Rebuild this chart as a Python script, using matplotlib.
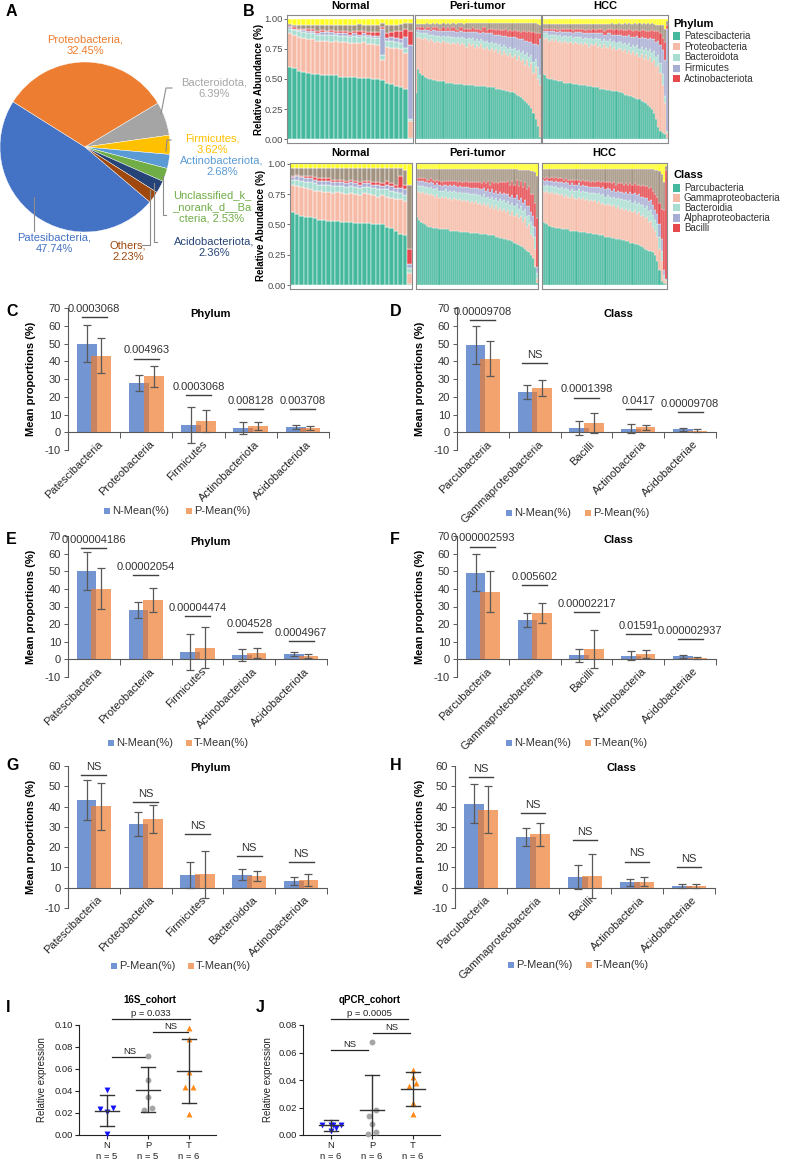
import numpy as np
import matplotlib
matplotlib.use("Agg")
import matplotlib.pyplot as plt
from matplotlib.lines import Line2D
from matplotlib.patches import Rectangle

plt.rcParams['font.family'] = ['Liberation Sans', 'DejaVu Sans']
plt.rcParams['axes.linewidth'] = 0.8

# ======================= DATA =======================
# ---- A: pie ----
pie_names = ['Patesibacteria', 'Proteobacteria', 'Bacteroidota', 'Firmicutes',
             'Actinobacteriota', 'Unclassified_k_\n_norank_d__Ba\ncteria', 'Acidobacteriota', 'Others']
pie_values = [47.74, 32.45, 6.39, 3.62, 2.68, 2.53, 2.36, 2.23]

# ---- B: stacked relative abundance (Phylum) ----
groups = ['Normal', 'Peri-tumor', 'HCC']
phylum_legend = ['Patescibacteria', 'Proteobacteria', 'Bacteroidota', 'Firmicutes', 'Actinobacteriota']
class_legend = ['Parcubacteria', 'Gammaproteobacteria', 'Bacteroidia', 'Alphaproteobacteria', 'Bacilli']

phy_pat_N = [0.60,0.59,0.57,0.56,0.55,0.54,0.54,0.53,0.53,0.53,0.53,0.52,0.52,0.52,0.52,0.51,0.51,0.51,0.50,0.50,0.49,0.47,0.46,0.44,0.43,0.42,0.01]
phy_protop_N = [0.88,0.87,0.85,0.84,0.83,0.83,0.82,0.82,0.82,0.81,0.82,0.81,0.81,0.80,0.80,0.80,0.81,0.79,0.79,0.78,0.66,0.77,0.76,0.76,0.75,0.72,0.15]
phy_bac_N = [0.04,0.04,0.05,0.05,0.05,0.05,0.05,0.05,0.05,0.06,0.05,0.05,0.05,0.05,0.06,0.05,0.05,0.06,0.05,0.06,0.04,0.05,0.06,0.05,0.05,0.04,0.02]
phy_fir_N = [0.01,0.01,0.01,0.02,0.02,0.02,0.01,0.02,0.02,0.02,0.01,0.02,0.02,0.02,0.02,0.02,0.02,0.02,0.02,0.02,0.22,0.02,0.03,0.03,0.03,0.09,0.61]
phy_act_N = [0.01,0.01,0.01,0.01,0.02,0.02,0.02,0.02,0.01,0.02,0.02,0.02,0.02,0.02,0.02,0.03,0.02,0.02,0.03,0.03,0.01,0.04,0.04,0.06,0.07,0.07,0.12]
phy_yel_N = [0.04,0.05,0.05,0.05,0.05,0.05,0.05,0.05,0.05,0.05,0.05,0.05,0.05,0.05,0.05,0.04,0.05,0.05,0.05,0.05,0.03,0.05,0.05,0.05,0.04,0.03,0.03]

phy_pat_P = [0.38,0.58,0.55,0.53,0.52,0.51,0.50,0.50,0.49,0.49,0.48,0.48,0.48,0.48,0.47,0.47,0.47,0.47,0.46,0.46,
             0.46,0.46,0.46,0.45,0.45,0.45,0.45,0.45,0.44,0.44,0.44,0.44,0.44,0.44,0.43,0.43,0.43,0.43,0.42,0.42,
             0.42,0.41,0.41,0.40,0.40,0.39,0.39,0.38,0.37,0.36,0.35,0.33,0.32,0.30,0.28,0.26,0.22,0.17,0.11,0.02]
phy_protop_P = [0.84,0.85,0.84,0.83,0.84,0.83,0.82,0.83,0.82,0.80,0.82,0.81,0.80,0.82,0.80,0.81,0.79,0.80,0.80,0.79,
                0.81,0.78,0.80,0.79,0.77,0.80,0.78,0.79,0.76,0.78,0.77,0.79,0.76,0.75,0.77,0.74,0.76,0.73,0.75,0.72,
                0.74,0.70,0.73,0.71,0.69,0.72,0.68,0.70,0.66,0.69,0.65,0.67,0.62,0.66,0.60,0.63,0.55,0.60,0.50,0.45]
phy_bac_P = [0.05,0.04,0.04,0.05,0.04,0.05,0.05,0.04,0.05,0.06,0.04,0.05,0.05,0.04,0.05,0.05,0.06,0.05,0.05,0.05,
             0.04,0.06,0.05,0.05,0.06,0.04,0.05,0.05,0.06,0.05,0.05,0.04,0.06,0.06,0.05,0.06,0.05,0.06,0.05,0.06,
             0.05,0.07,0.05,0.06,0.06,0.05,0.07,0.06,0.07,0.05,0.07,0.06,0.08,0.06,0.08,0.07,0.09,0.07,0.10,0.08]
phy_fir_P = [0.02,0.03,0.03,0.03,0.03,0.03,0.04,0.03,0.04,0.05,0.04,0.04,0.05,0.04,0.05,0.04,0.05,0.05,0.05,0.05,
             0.04,0.06,0.05,0.05,0.06,0.05,0.06,0.05,0.07,0.06,0.06,0.05,0.07,0.07,0.06,0.08,0.07,0.08,0.07,0.09,
             0.08,0.09,0.08,0.09,0.10,0.08,0.10,0.09,0.11,0.09,0.11,0.10,0.12,0.10,0.13,0.11,0.15,0.12,0.18,0.30]
phy_act_P = [0.02,0.01,0.02,0.02,0.01,0.02,0.02,0.02,0.02,0.02,0.03,0.02,0.02,0.03,0.02,0.03,0.02,0.03,0.03,0.03,
             0.02,0.03,0.03,0.03,0.03,0.03,0.03,0.04,0.03,0.03,0.04,0.03,0.04,0.05,0.03,0.04,0.04,0.05,0.04,0.05,
             0.04,0.05,0.05,0.06,0.05,0.06,0.05,0.06,0.06,0.07,0.06,0.07,0.08,0.07,0.09,0.08,0.10,0.09,0.10,0.05]
phy_yel_P = [0.04,0.04,0.04,0.04,0.04,0.03,0.04,0.04,0.03,0.04,0.03,0.04,0.04,0.03,0.04,0.03,0.04,0.03,0.03,0.04,
             0.03,0.03,0.03,0.04,0.03,0.03,0.03,0.03,0.03,0.03,0.03,0.03,0.03,0.03,0.03,0.03,0.03,0.03,0.03,0.03,
             0.03,0.03,0.03,0.03,0.03,0.03,0.03,0.03,0.03,0.03,0.03,0.03,0.03,0.03,0.03,0.03,0.03,0.03,0.04,0.05]

phy_pat_T = [0.54,0.53,0.51,0.50,0.50,0.49,0.49,0.48,0.48,0.48,0.47,0.47,0.47,0.47,0.46,0.46,0.46,0.45,0.45,0.45,
             0.45,0.44,0.44,0.44,0.43,0.43,0.43,0.42,0.42,0.42,0.41,0.41,0.41,0.40,0.40,0.40,0.39,0.39,0.38,0.37,
             0.37,0.36,0.36,0.35,0.34,0.33,0.33,0.32,0.31,0.30,0.28,0.27,0.25,0.22,0.17,0.10,0.07,0.05,0.04,0.01]
phy_protop_T = [0.84,0.83,0.84,0.82,0.83,0.82,0.83,0.81,0.82,0.80,0.82,0.81,0.80,0.81,0.79,0.81,0.80,0.79,0.80,0.78,
                0.80,0.79,0.77,0.79,0.78,0.80,0.77,0.78,0.76,0.79,0.77,0.76,0.78,0.75,0.77,0.74,0.76,0.75,0.73,0.75,
                0.72,0.74,0.71,0.73,0.70,0.72,0.68,0.71,0.67,0.70,0.66,0.68,0.64,0.66,0.60,0.62,0.55,0.45,0.30,0.05]
phy_bac_T = [0.04,0.05,0.04,0.05,0.04,0.05,0.04,0.05,0.05,0.05,0.04,0.05,0.05,0.05,0.05,0.04,0.05,0.06,0.05,0.05,
             0.04,0.05,0.06,0.05,0.05,0.04,0.06,0.05,0.06,0.04,0.05,0.06,0.05,0.06,0.05,0.06,0.05,0.06,0.06,0.05,
             0.06,0.06,0.06,0.05,0.07,0.06,0.07,0.06,0.07,0.06,0.07,0.07,0.08,0.07,0.08,0.08,0.08,0.09,0.06,0.02]
phy_fir_T = [0.02,0.02,0.02,0.03,0.03,0.03,0.02,0.03,0.03,0.04,0.03,0.03,0.04,0.03,0.04,0.04,0.04,0.04,0.04,0.05,
             0.04,0.04,0.05,0.04,0.05,0.04,0.05,0.05,0.06,0.04,0.05,0.06,0.05,0.06,0.05,0.07,0.06,0.06,0.07,0.06,
             0.08,0.07,0.08,0.07,0.08,0.08,0.09,0.08,0.10,0.08,0.10,0.09,0.11,0.10,0.13,0.12,0.15,0.20,0.30,0.85]
phy_act_T = [0.02,0.02,0.02,0.02,0.02,0.02,0.03,0.02,0.02,0.03,0.03,0.03,0.03,0.03,0.03,0.03,0.03,0.03,0.03,0.04,
             0.03,0.03,0.04,0.03,0.04,0.03,0.04,0.04,0.04,0.03,0.04,0.04,0.04,0.05,0.04,0.05,0.04,0.05,0.05,0.05,
             0.05,0.05,0.06,0.05,0.06,0.05,0.06,0.06,0.07,0.06,0.07,0.06,0.08,0.07,0.09,0.08,0.10,0.10,0.15,0.03]
phy_yel_T = [0.04,0.04,0.04,0.04,0.04,0.04,0.04,0.04,0.04,0.04,0.04,0.04,0.04,0.04,0.04,0.04,0.04,0.04,0.04,0.04,
             0.04,0.04,0.04,0.04,0.04,0.04,0.04,0.04,0.04,0.04,0.04,0.04,0.04,0.03,0.04,0.04,0.03,0.04,0.04,0.03,
             0.04,0.03,0.04,0.04,0.03,0.04,0.03,0.04,0.03,0.04,0.03,0.04,0.03,0.04,0.05,0.05,0.05,0.05,0.08,0.02]

# ---- B: stacked relative abundance (Class) ----
cls_par_N = [0.60,0.59,0.57,0.56,0.56,0.55,0.54,0.54,0.53,0.53,0.53,0.52,0.52,0.52,0.51,0.51,0.51,0.51,0.50,0.50,0.50,0.48,0.47,0.45,0.42,0.41,0.01]
cls_gamtop_N = [0.83,0.82,0.81,0.80,0.79,0.78,0.78,0.77,0.77,0.76,0.77,0.76,0.75,0.76,0.75,0.74,0.76,0.75,0.74,0.73,0.74,0.73,0.72,0.71,0.71,0.69,0.10]
cls_bcd_N = [0.04,0.05,0.05,0.05,0.06,0.06,0.05,0.06,0.06,0.06,0.05,0.06,0.06,0.06,0.06,0.06,0.05,0.06,0.06,0.06,0.05,0.06,0.06,0.06,0.05,0.05,0.04]
cls_alp_N = [0.02,0.03,0.03,0.03,0.03,0.03,0.03,0.03,0.03,0.03,0.03,0.03,0.03,0.03,0.03,0.03,0.03,0.03,0.03,0.04,0.03,0.04,0.04,0.03,0.04,0.05,0.03]
cls_bal_N = [0.01,0.01,0.01,0.02,0.02,0.02,0.02,0.02,0.02,0.02,0.02,0.02,0.02,0.02,0.02,0.02,0.02,0.02,0.02,0.02,0.02,0.03,0.02,0.03,0.10,0.04,0.13]
cls_yel_N = [0.03,0.03,0.03,0.03,0.03,0.03,0.03,0.03,0.03,0.03,0.03,0.03,0.03,0.03,0.03,0.03,0.03,0.03,0.03,0.03,0.03,0.03,0.03,0.03,0.03,0.05,0.17]

cls_par_P = [0.56,0.54,0.52,0.51,0.50,0.49,0.48,0.48,0.47,0.47,0.47,0.46,0.46,0.46,0.46,0.46,0.45,0.45,0.45,0.45,
             0.45,0.44,0.44,0.44,0.44,0.44,0.43,0.43,0.43,0.43,0.43,0.42,0.42,0.42,0.42,0.41,0.41,0.41,0.41,0.40,
             0.40,0.39,0.39,0.38,0.38,0.37,0.37,0.36,0.35,0.34,0.33,0.32,0.31,0.30,0.28,0.27,0.25,0.22,0.15,0.02]
cls_gamtop_P = [0.78,0.77,0.76,0.77,0.75,0.76,0.74,0.75,0.74,0.73,0.74,0.72,0.73,0.72,0.73,0.71,0.72,0.70,0.72,0.71,
                0.70,0.71,0.69,0.70,0.69,0.70,0.68,0.69,0.68,0.69,0.67,0.68,0.66,0.68,0.65,0.67,0.64,0.66,0.63,0.65,
                0.62,0.64,0.61,0.63,0.60,0.62,0.58,0.61,0.57,0.59,0.55,0.57,0.52,0.55,0.48,0.50,0.42,0.40,0.30,0.05]
cls_bcd_P = [0.05,0.05,0.06,0.05,0.06,0.05,0.06,0.06,0.05,0.06,0.06,0.06,0.05,0.06,0.06,0.06,0.06,0.07,0.06,0.06,
             0.06,0.06,0.07,0.06,0.07,0.06,0.07,0.06,0.07,0.06,0.07,0.06,0.07,0.07,0.07,0.06,0.07,0.07,0.07,0.07,
             0.07,0.07,0.08,0.07,0.08,0.07,0.08,0.07,0.08,0.08,0.08,0.08,0.09,0.08,0.09,0.08,0.10,0.09,0.10,0.05]
cls_alp_P = [0.03,0.04,0.04,0.04,0.04,0.04,0.04,0.04,0.05,0.04,0.04,0.05,0.04,0.05,0.04,0.05,0.05,0.05,0.05,0.05,
             0.05,0.05,0.05,0.05,0.05,0.05,0.05,0.05,0.05,0.05,0.06,0.05,0.06,0.05,0.06,0.06,0.06,0.06,0.06,0.06,
             0.06,0.06,0.06,0.06,0.07,0.06,0.07,0.06,0.07,0.07,0.07,0.07,0.07,0.07,0.08,0.07,0.08,0.08,0.08,0.05]
cls_bal_P = [0.02,0.02,0.02,0.02,0.03,0.02,0.03,0.03,0.03,0.03,0.03,0.03,0.03,0.03,0.03,0.04,0.03,0.04,0.03,0.04,
             0.04,0.04,0.04,0.04,0.05,0.04,0.05,0.05,0.05,0.05,0.05,0.06,0.05,0.06,0.06,0.07,0.06,0.07,0.08,0.07,
             0.09,0.08,0.10,0.09,0.10,0.11,0.10,0.12,0.11,0.13,0.12,0.14,0.13,0.15,0.14,0.17,0.15,0.18,0.20,0.40]
cls_yel_P = [0.04,0.04,0.04,0.04,0.04,0.04,0.04,0.04,0.04,0.04,0.04,0.04,0.04,0.04,0.04,0.04,0.04,0.04,0.04,0.04,
             0.04,0.04,0.04,0.04,0.04,0.04,0.04,0.04,0.04,0.04,0.04,0.04,0.04,0.04,0.04,0.04,0.04,0.04,0.04,0.04,
             0.04,0.04,0.04,0.04,0.04,0.04,0.04,0.04,0.04,0.04,0.05,0.05,0.05,0.05,0.05,0.05,0.06,0.06,0.07,0.10]

cls_par_T = [0.52,0.51,0.50,0.49,0.48,0.48,0.47,0.47,0.47,0.46,0.46,0.46,0.46,0.45,0.45,0.45,0.45,0.44,0.44,0.44,
             0.44,0.43,0.43,0.43,0.42,0.42,0.42,0.41,0.41,0.41,0.40,0.40,0.40,0.39,0.39,0.38,0.38,0.38,0.37,0.37,
             0.36,0.36,0.35,0.35,0.34,0.34,0.33,0.32,0.31,0.30,0.29,0.28,0.28,0.27,0.25,0.20,0.12,0.03,0.02,0.01]
cls_gamtop_T = [0.78,0.77,0.78,0.76,0.77,0.75,0.76,0.75,0.74,0.75,0.73,0.74,0.73,0.72,0.74,0.72,0.71,0.73,0.71,0.72,
                0.70,0.71,0.69,0.70,0.69,0.70,0.68,0.69,0.67,0.68,0.66,0.67,0.66,0.65,0.66,0.64,0.65,0.63,0.64,0.62,
                0.63,0.61,0.62,0.60,0.61,0.59,0.60,0.57,0.58,0.55,0.56,0.52,0.53,0.48,0.45,0.40,0.30,0.20,0.05,0.03]
cls_bcd_T = [0.05,0.05,0.05,0.06,0.05,0.06,0.06,0.05,0.06,0.06,0.06,0.06,0.06,0.06,0.05,0.06,0.07,0.06,0.06,0.06,
             0.07,0.06,0.07,0.06,0.07,0.06,0.07,0.07,0.07,0.07,0.07,0.07,0.07,0.07,0.07,0.07,0.07,0.08,0.07,0.08,
             0.07,0.08,0.08,0.08,0.08,0.08,0.08,0.09,0.08,0.09,0.09,0.09,0.09,0.10,0.09,0.10,0.10,0.08,0.03,0.01]
cls_alp_T = [0.04,0.04,0.04,0.04,0.04,0.04,0.04,0.05,0.05,0.04,0.05,0.05,0.05,0.05,0.05,0.05,0.05,0.05,0.05,0.05,
             0.05,0.05,0.05,0.05,0.05,0.05,0.06,0.05,0.06,0.06,0.06,0.06,0.06,0.06,0.06,0.06,0.06,0.06,0.06,0.06,
             0.07,0.06,0.07,0.07,0.07,0.07,0.07,0.07,0.07,0.08,0.07,0.08,0.08,0.08,0.08,0.09,0.10,0.10,0.04,0.01]
cls_bal_T = [0.02,0.02,0.02,0.02,0.03,0.03,0.03,0.03,0.03,0.03,0.03,0.03,0.03,0.04,0.03,0.04,0.04,0.03,0.04,0.04,
             0.04,0.04,0.05,0.04,0.05,0.04,0.05,0.05,0.05,0.05,0.06,0.05,0.06,0.06,0.06,0.06,0.06,0.07,0.07,0.07,
             0.07,0.08,0.07,0.08,0.08,0.09,0.08,0.09,0.10,0.10,0.10,0.11,0.11,0.12,0.13,0.14,0.18,0.25,0.50,0.90]
cls_yel_T = [0.04,0.04,0.04,0.04,0.04,0.04,0.04,0.04,0.04,0.04,0.04,0.04,0.04,0.04,0.04,0.04,0.04,0.04,0.04,0.04,
             0.04,0.04,0.04,0.04,0.04,0.04,0.04,0.04,0.04,0.04,0.04,0.04,0.04,0.04,0.04,0.04,0.04,0.04,0.04,0.04,
             0.04,0.04,0.04,0.04,0.04,0.04,0.04,0.04,0.04,0.04,0.04,0.04,0.04,0.04,0.05,0.05,0.06,0.08,0.15,0.02]

# ---- C-H: mean proportions with SD ----
cats_phy = ['Patescibacteria', 'Proteobacteria', 'Firmicutes', 'Actinobacteriota', 'Acidobacteriota']
cats_cls = ['Parcubacteria', 'Gammaproteobacteria', 'Bacilli', 'Actinobacteria', 'Acidobacteriae']
cats_phy_G = ['Patescibacteria', 'Proteobacteria', 'Firmicutes', 'Bacteroidota', 'Actinobacteriota']

c_n_mean = [50.0, 27.8, 4.2, 2.5, 3.0];  c_n_sd = [10.7, 4.5, 10.2, 3.5, 1.0]
c_p_mean = [43.2, 31.5, 6.3, 3.3, 2.2];  c_p_sd = [9.8, 5.9, 6.2, 2.2, 1.1]
c_pval = ['0.0003068', '0.004963', '0.0003068', '0.008128', '0.003708']

d_n_mean = [49.2, 22.5, 2.2, 2.1, 1.7];  d_n_sd = [10.6, 3.9, 3.9, 2.7, 0.9]
d_p_mean = [41.5, 25.0, 5.1, 2.7, 0.9];  d_p_sd = [9.7, 4.4, 5.7, 1.5, 0.9]
d_pval = ['0.00009708', 'NS', '0.0001398', '0.0417', '0.00009708']

e_n_mean = [50.0, 27.8, 4.2, 2.4, 3.0];  e_n_sd = [10.7, 4.5, 10.2, 3.5, 1.0]
e_t_mean = [40.2, 33.8, 6.6, 3.6, 2.0];  e_t_sd = [11.5, 6.8, 11.6, 2.9, 1.1]
e_pval = ['0.000004186', '0.00002054', '0.00004474', '0.004528', '0.0004967']

f_n_mean = [49.2, 22.5, 2.2, 2.1, 1.7];  f_n_sd = [10.6, 3.9, 3.9, 2.7, 0.9]
f_t_mean = [38.3, 26.4, 5.8, 3.0, 0.8];  f_t_sd = [11.6, 5.7, 10.7, 2.2, 0.7]
f_pval = ['0.000002593', '0.005602', '0.00002217', '0.01591', '0.000002937']

g_p_mean = [43.2, 31.5, 6.2, 6.5, 3.2];  g_p_sd = [9.8, 5.9, 6.3, 2.9, 2.1]
g_t_mean = [40.1, 33.7, 6.6, 5.7, 3.7];  g_t_sd = [11.5, 6.9, 11.6, 2.3, 2.9]
g_pval = ['NS', 'NS', 'NS', 'NS', 'NS']

h_p_mean = [41.5, 25.0, 5.2, 2.6, 0.9];  h_p_sd = [9.7, 4.4, 5.8, 1.6, 0.9]
h_t_mean = [38.4, 26.4, 5.7, 3.0, 0.8];  h_t_sd = [11.6, 5.7, 10.8, 2.2, 0.8]
h_pval = ['NS', 'NS', 'NS', 'NS', 'NS']

# ---- I, J: relative expression ----
groups_ij = ['N', 'P', 'T']
i_N = [0.041, 0.024, 0.021, 0.025, 0.001]
i_P = [0.072, 0.050, 0.035, 0.023, 0.025]
i_T = [0.097, 0.087, 0.057, 0.044, 0.044, 0.019]
i_mean = [0.0222, 0.0412, 0.058]
i_sd = [0.0142, 0.0203, 0.0292]
j_N = [0.0075, 0.0073, 0.0030, 0.0050, 0.0072, 0.0074]
j_P = [0.068, 0.018, 0.0135, 0.008, 0.0025, 0.001]
j_T = [0.047, 0.042, 0.038, 0.036, 0.023, 0.015]
j_mean = [0.0070, 0.0185, 0.0335]
j_sd = [0.0040, 0.0255, 0.0125]

# ======================= FIGURE =======================
W, H = 791, 1160
fig = plt.figure(figsize=(W / 100, H / 100), dpi=100)


def px_axes(x0, y0, x1, y1):
    return fig.add_axes([x0 / W, 1 - y1 / H, (x1 - x0) / W, (y1 - y0) / H])


def ftext(px, py, s, **kw):
    kw.setdefault('ha', 'center')
    kw.setdefault('va', 'center')
    return fig.text(px / W, 1 - py / H, s, **kw)


def fline(xs, ys, color='#8C8C8C', lw=0.8):
    fig.add_artist(Line2D([x / W for x in xs], [1 - y / H for y in ys],
                          transform=fig.transFigure, color=color, lw=lw))


def fsquare(px, py, size, color):
    fig.add_artist(Rectangle((px / W, 1 - (py + size / 2) / H), size / W, size / H,
                             transform=fig.transFigure, facecolor=color, lw=0))


# panel letters
for lab, (x, y) in {'A': (6, 11), 'B': (243, 11), 'C': (6, 312), 'D': (390, 312),
                    'E': (6, 539), 'F': (390, 539), 'G': (6, 766), 'H': (390, 766),
                    'I': (6, 1008), 'J': (256, 1008)}.items():
    ftext(x, y, lab, fontsize=11.5, fontweight='bold', ha='left')

# ---------------- A: pie ----------------
pie_colors = ['#4472C4', '#ED7D31', '#A5A5A5', '#FFC000', '#5B9BD5', '#70AD47', '#264478', '#9E480E']
cx, cy, r = 85, 147, 85
axA = px_axes(cx - r, cy - r, cx + r, cy + r)
axA.pie(pie_values, colors=pie_colors, startangle=-40.3, counterclock=False,
        wedgeprops=dict(linewidth=0.3, edgecolor='white'))
axA.set_xlim(-1, 1); axA.set_ylim(-1, 1); axA.axis('off')

label_pos = [(54, 243), (85, 45), (214, 88), (212, 144), (222, 166), (212, 207), (214, 247), (128, 251)]
for i, (nm, v) in enumerate(zip(pie_names, pie_values)):
    sep = ' ' if '\n' in nm else '\n'
    ftext(label_pos[i][0], label_pos[i][1], f"{nm},{sep}{v:.2f}%", color=pie_colors[i],
          fontsize=8, linespacing=1.2)
fline([172, 166, 161], [88, 88, 114])          # Bacteroidota
fline([171, 167, 166], [140, 140, 151])        # Firmicutes
fline([166, 163, 163], [215, 215, 176])        # Unclassified
fline([157, 154, 154], [242, 242, 183])        # Acidobacteriota
fline([142, 150, 150], [245, 245, 190])        # Others
fline([34, 34], [197, 231])                    # Patesibacteria

# ---------------- B: stacked bars ----------------
col_main = ['#46B89D', '#F6BBA7', '#A9DDD1', '#A8AED3', '#E5484D']
col_yel = '#FFFF22'
col_rest = '#A29281'


def stacked(ax, layers, lw):
    n = len(layers[0])
    x = np.arange(n)
    bottom = np.zeros(n)
    mains = layers[:5]
    rest = np.clip(1 - np.sum([np.asarray(l) for l in layers], axis=0), 0, None)
    order = list(zip(mains, col_main)) + [(rest, col_rest), (layers[5], col_yel)]
    for vals, c in order:
        vals = np.asarray(vals, float)
        ax.bar(x, vals, bottom=bottom, width=1.0, color=c, edgecolor='white', linewidth=lw)
        bottom += vals
    ax.set_xlim(-0.6, n - 0.4)


def style_facet(ax, first, ylim):
    ax.set_ylim(*ylim)
    for s in ax.spines.values():
        s.set_color('#8A8A8A'); s.set_linewidth(0.8)
    ax.set_xticks([])
    if first:
        ax.set_yticks([0, 0.25, 0.5, 0.75, 1.0])
        ax.set_yticklabels(['0.00', '0.25', '0.50', '0.75', '1.00'])
        ax.tick_params(axis='y', length=2, width=0.6, color='#555555', labelsize=6.8,
                       labelcolor='#4D4D4D', pad=1)
    else:
        ax.set_yticks([])


phy_sets = [
    [phy_pat_N, np.subtract(phy_protop_N, phy_pat_N), phy_bac_N, phy_fir_N, phy_act_N, phy_yel_N],
    [phy_pat_P, np.subtract(phy_protop_P, phy_pat_P), phy_bac_P, phy_fir_P, phy_act_P, phy_yel_P],
    [phy_pat_T, np.subtract(phy_protop_T, phy_pat_T), phy_bac_T, phy_fir_T, phy_act_T, phy_yel_T]]
cls_sets = [
    [cls_par_N, np.subtract(cls_gamtop_N, cls_par_N), cls_bcd_N, cls_alp_N, cls_bal_N, cls_yel_N],
    [cls_par_P, np.subtract(cls_gamtop_P, cls_par_P), cls_bcd_P, cls_alp_P, cls_bal_P, cls_yel_P],
    [cls_par_T, np.subtract(cls_gamtop_T, cls_par_T), cls_bcd_T, cls_alp_T, cls_bal_T, cls_yel_T]]

top_x = [(287, 413), (415, 541), (542, 668)]
for k, (x0, x1) in enumerate(top_x):
    ax = px_axes(x0, 15, x1, 143)
    stacked(ax, phy_sets[k], 0.35 if k == 0 else 0.2)
    style_facet(ax, k == 0, (-0.033, 1.033))
    ftext((x0 + x1) / 2, 6, groups[k], fontsize=8, fontweight='bold')
bot_x = [(290, 412), (416, 538), (542, 667)]
for k, (x0, x1) in enumerate(bot_x):
    ax = px_axes(x0, 163, x1, 289)
    stacked(ax, cls_sets[k], 0.35 if k == 0 else 0.2)
    style_facet(ax, k == 0, (-0.033, 1.008))
    ftext((x0 + x1) / 2, 153, groups[k], fontsize=8, fontweight='bold')

ftext(259, 79, 'Relative Abundance (%)', rotation=90, fontsize=7, fontweight='bold')
ftext(261, 225, 'Relative Abundance (%)', rotation=90, fontsize=7, fontweight='bold')

ftext(673, 24, 'Phylum', fontsize=8, fontweight='bold', ha='left')
for i, nm in enumerate(phylum_legend):
    yy = 36 + i * 10.7
    fsquare(673, yy, 7, col_main[i])
    ftext(684, yy, nm, fontsize=7, ha='left', color='#333333')
ftext(673, 175, 'Class', fontsize=8, fontweight='bold', ha='left')
for i, nm in enumerate(class_legend):
    yy = 188 + i * 10
    fsquare(673, yy, 7, col_main[i])
    ftext(684, yy, nm, fontsize=7, ha='left', color='#333333')

# ---------------- C-H: bar charts ----------------
BLUE = '#4472C4'
ORANGE = '#ED7D31'
BLUE_L = '#7395D3'
ORANGE_L = '#F2A46F'
FS = 8


def bar_panel(xr, yr, ylim, ystep, cats, m1, s1, m2, s2, ptxt, sig_y, gap,
              title, title_xy, leg_names, leg_y, leg_x, ylab_x):
    ax = px_axes(xr[0], yr[0], xr[1], yr[1])
    x = np.arange(len(cats))
    ax.bar(x - 0.14, m1, width=0.38, color=BLUE, alpha=0.75, lw=0, zorder=2)
    ax.bar(x + 0.14, m2, width=0.38, color=ORANGE, alpha=0.7, lw=0, zorder=3)
    ek = dict(fmt='none', ecolor='#595959', elinewidth=0.9, capsize=3, capthick=0.9, zorder=4)
    ax.errorbar(x - 0.14, m1, yerr=s1, **ek)
    ax.errorbar(x + 0.14, m2, yerr=s2, **ek)
    ax.set_xlim(-0.5, len(cats) - 0.5)
    ax.set_ylim(*ylim)
    for sp in ['top', 'right']:
        ax.spines[sp].set_visible(False)
    ax.spines['bottom'].set_position(('data', 0))
    ax.spines['bottom'].set_color('#595959')
    ax.spines['left'].set_color('#595959')
    ax.set_yticks(np.arange(ylim[0], ylim[1] + 0.1, ystep))
    ax.set_yticklabels([f"{int(v)}" for v in np.arange(ylim[0], ylim[1] + 0.1, ystep)])
    ax.tick_params(axis='y', length=3, width=0.7, color='#595959', labelsize=FS,
                   labelcolor='#333333', pad=2)
    ax.set_xticks(x + 0.06)
    ax.set_xticklabels(cats, rotation=45, ha='right', va='top', rotation_mode='anchor',
                       fontsize=FS, color='#262626')
    ax.set_xticks(np.arange(-0.5, len(cats)), minor=True)
    ax.tick_params(axis='x', which='major', length=0, pad=5)
    ax.tick_params(axis='x', which='minor', length=4, width=0.7, color='#595959', direction='out')
    for i in range(len(cats)):
        ax.plot([i - 0.24, i + 0.24], [sig_y[i]] * 2, color='#404040', lw=1, clip_on=False, zorder=5)
        ax.text(i, sig_y[i] + gap, ptxt[i], ha='center', va='bottom', fontsize=FS,
                color='#333333', clip_on=False)
    ftext(title_xy[0], title_xy[1], title, fontsize=FS, fontweight='bold')
    fsquare(leg_x[0], leg_y, 6, BLUE_L)
    ftext(leg_x[0] + 8, leg_y, leg_names[0], fontsize=FS, ha='left', color='#333333')
    fsquare(leg_x[1], leg_y, 6, ORANGE_L)
    ftext(leg_x[1] + 8, leg_y, leg_names[1], fontsize=FS, ha='left', color='#333333')
    ftext(ylab_x, (yr[0] + yr[1]) / 2, 'Mean proportions (%)', rotation=90,
          fontsize=FS, fontweight='bold')
    return ax


bar_panel((68, 329), (308, 450), (-10, 70), 10, cats_phy, c_n_mean, c_n_sd, c_p_mean, c_p_sd,
          c_pval, [65, 41.5, 21, 13, 13], 1.8, 'Phylum', (210, 314),
          ['N-Mean(%)', 'P-Mean(%)'], 511, (104, 186), 31)
bar_panel((457, 716), (308, 450), (-10, 70), 10, cats_cls, d_n_mean, d_n_sd, d_p_mean, d_p_sd,
          d_pval, [63, 39, 19.5, 13, 11.3], 1.8, 'Class', (618, 314),
          ['N-Mean(%)', 'P-Mean(%)'], 513, (506, 585), 420)
bar_panel((68, 327), (536, 677), (-10, 70), 10, cats_phy, e_n_mean, e_n_sd, e_t_mean, e_t_sd,
          e_pval, [63, 47.7, 24.4, 15.3, 10.2], 1.8, 'Phylum', (210, 542),
          ['N-Mean(%)', 'T-Mean(%)'], 743, (108, 186), 31)
bar_panel((457, 716), (536, 677), (-10, 70), 10, cats_cls, f_n_mean, f_n_sd, f_t_mean, f_t_sd,
          f_pval, [64, 42, 26.7, 14.2, 11.4], 1.8, 'Class', (618, 540),
          ['N-Mean(%)', 'T-Mean(%)'], 743, (506, 585), 420)
bar_panel((68, 327), (766, 908), (-10, 60), 10, cats_phy_G, g_p_mean, g_p_sd, g_t_mean, g_t_sd,
          g_pval, [55.4, 42.2, 26.5, 15.6, 12.8], 1.6, 'Phylum', (210, 768),
          ['P-Mean(%)', 'T-Mean(%)'], 966, (111, 188), 31)
bar_panel((455, 715), (766, 908), (-10, 60), 10, cats_cls, h_p_mean, h_p_sd, h_t_mean, h_t_sd,
          h_pval, [54.5, 36.8, 23.4, 12.9, 10.0], 1.6, 'Class', (621, 768),
          ['P-Mean(%)', 'T-Mean(%)'], 965, (508, 586), 420)

# ---------------- I, J: dot plots ----------------
DOT_COL = ['#1414FF', '#A6A6A6', '#FF8A1A']
DOT_MK = ['v', 'o', '^']


def dot_panel(xr, ymax, ystep, pts, jit, means, sds, ns, title, title_x, brackets, ylab_x):
    ax = px_axes(xr[0], 1025, xr[1], 1135)
    for g in range(3):
        xs = g + np.asarray(jit[g])
        ax.scatter(xs, pts[g], marker=DOT_MK[g], s=18, color=DOT_COL[g], lw=0, zorder=3, clip_on=False)
        ax.plot([g - 0.3, g + 0.3], [means[g]] * 2, color='#333333', lw=1.0, zorder=4)
        lo, hi = means[g] - sds[g], means[g] + sds[g]
        ax.plot([g, g], [max(lo, 0), hi], color='#333333', lw=1.0, zorder=4)
        for yv in (lo, hi):
            if yv >= 0:
                ax.plot([g - 0.17, g + 0.17], [yv, yv], color='#333333', lw=1.0, zorder=4)
    ax.set_xlim(-0.68, 2.66)
    ax.set_ylim(0, ymax)
    for sp in ['top', 'right']:
        ax.spines[sp].set_visible(False)
    ax.spines['left'].set_color('#222222'); ax.spines['bottom'].set_color('#222222')
    ax.set_yticks(np.arange(0, ymax + 1e-9, ystep))
    ax.set_yticklabels([f"{v:.2f}" for v in np.arange(0, ymax + 1e-9, ystep)])
    ax.set_xticks([0, 1, 2])
    ax.set_xticklabels([f"{g}\nn = {n}" for g, n in zip(groups_ij, ns)], linespacing=1.3)
    ax.tick_params(axis='both', length=3, width=0.8, color='#222222', labelsize=6.8,
                   labelcolor='#222222', pad=1.5)
    for (xa, xb, yv, txt) in brackets:
        ax.plot([xa, xb], [yv, yv], color='#222222', lw=0.9, clip_on=False)
        ax.text((xa + xb) / 2, yv + ymax * 0.012, txt, ha='center', va='bottom',
                fontsize=6.8, color='#222222', clip_on=False)
    ftext(title_x, 1000, title, fontsize=7, fontweight='bold')
    ftext(ylab_x, 1080, 'Relative expression', rotation=90, fontsize=7, color='#222222')


dot_panel((79, 216), 0.10, 0.02, [i_N, i_P, i_T],
          [[0, -0.18, 0, 0.16, 0], [0, 0, 0, -0.1, 0.1], [0, 0, 0, -0.1, 0.09, 0]],
          i_mean, i_sd, [len(i_N), len(i_P), len(i_T)], '16S_cohort', 150,
          [(0.12, 2.02, 0.1055, 'p = 0.033'), (1.12, 1.98, 0.0936, 'NS'), (0.12, 0.98, 0.0709, 'NS')], 42)
dot_panel((303, 440), 0.08, 0.02, [j_N, j_P, j_T],
          [[-0.22, 0, 0, 0.12, 0.24, 0.05], [0, 0.1, -0.08, 0, 0.1, -0.1], [0, 0, 0.08, -0.1, 0, 0]],
          j_mean, j_sd, [len(j_N), len(j_P), len(j_T)], 'qPCR_cohort', 370,
          [(0.0, 1.88, 0.0844, 'p = 0.0005'), (1.02, 1.93, 0.0742, 'NS'), (0.0, 0.9, 0.0618, 'NS')], 268)

fig.savefig('out.png', dpi=100)
